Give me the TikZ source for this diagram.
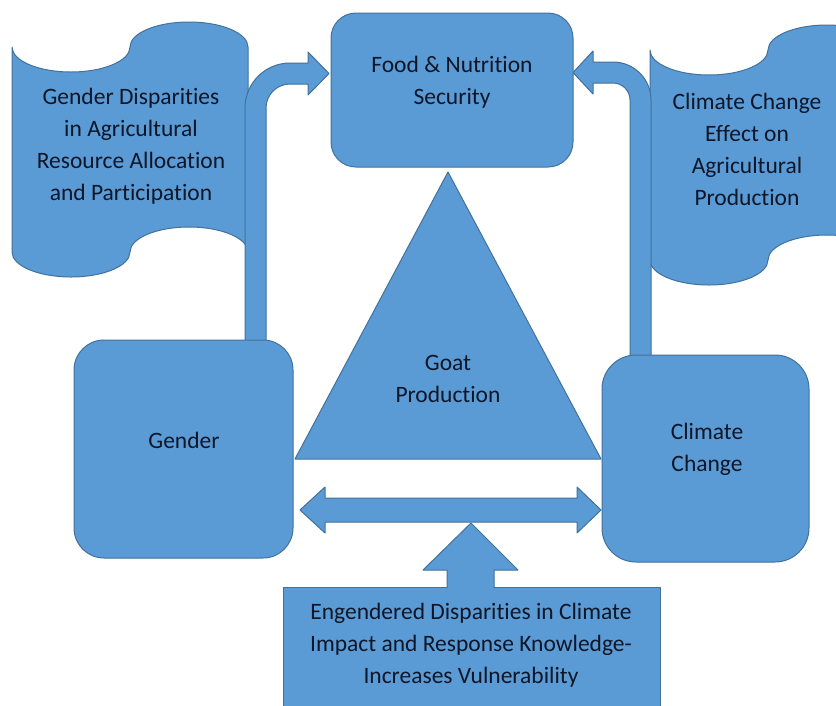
\documentclass[tikz,border=0pt]{standalone}
\usepackage{fontspec}
\setmainfont{Carlito}[Ligatures={NoCommon,NoRare}]
\usetikzlibrary{shapes.geometric}
\definecolor{boxfill}{RGB}{91,155,213}
\definecolor{boxline}{RGB}{65,113,156}
\definecolor{txt}{RGB}{14,22,40}
\begin{document}
\begin{tikzpicture}[x=1pt,y=1pt,
  shp/.style={fill=boxfill,draw=boxline,line width=1pt,line join=round},
  lbl/.style={text=txt,align=center,font=\fontsize{23.5}{32}\selectfont,inner sep=0pt}]
\useasboundingbox (0,0) rectangle (836,-705);
\clip (0,0) rectangle (836,-705);
\fill[white] (0,0) rectangle (836,-705);
% left wave (punched tape)
\path[shp] (12,-47) arc[start angle=180,end angle=360,x radius=59,y radius=25]
  arc[start angle=180,end angle=0,x radius=59,y radius=25]
  -- (248,-252) arc[start angle=0,end angle=180,x radius=59,y radius=25]
  arc[start angle=0,end angle=-180,x radius=59,y radius=25] -- cycle;
% right wave (punched tape)
\path[shp] (650,-50) arc[start angle=180,end angle=360,x radius=59,y radius=25]
  arc[start angle=180,end angle=0,x radius=59,y radius=25]
  -- (886,-260) arc[start angle=0,end angle=180,x radius=59,y radius=25]
  arc[start angle=0,end angle=-180,x radius=59,y radius=25] -- cycle;
% left bent arrow
\path[shp] (245,-342) -- (245,-108) arc[start angle=180,end angle=90,radius=45]
  -- (308,-63) -- (308,-52) -- (329,-73.5) -- (308,-95) -- (308,-84) -- (290,-84)
  arc[start angle=90,end angle=180,radius=24] -- (266,-342) -- cycle;
% right bent arrow
\path[shp] (630,-357) -- (630,-100) arc[start angle=0,end angle=90,radius=17]
  -- (593,-83) -- (593,-94) -- (573,-72.5) -- (593,-51) -- (593,-62) -- (613,-62)
  arc[start angle=90,end angle=0,radius=38] -- (651,-357) -- cycle;
% food box
\path[shp,rounded corners=25pt] (331,-13) rectangle (573,-167);
% triangle
\path[shp] (448,-172) -- (601,-459) -- (295,-459) -- cycle;
% gender box
\path[shp,rounded corners=30pt] (74,-340) rectangle (293,-558);
% climate box
\path[shp,rounded corners=34pt] (602,-355) rectangle (809,-562);
% double arrow
\path[shp] (300,-510) -- (325,-487) -- (325,-498) -- (577,-498) -- (577,-487)
  -- (601,-510) -- (577,-533) -- (577,-522) -- (325,-522) -- (325,-533) -- cycle;
% bottom box
\path[shp] (283,-587) rectangle (660,-720);
% up arrow
\path[shp] (447,-588) -- (447,-570) -- (423,-570) -- (471,-523) -- (518,-570)
  -- (494,-570) -- (494,-588);
% labels
\node[lbl] (food) at (452,-82) {Food \& Nutrition\\Security};
\node[lbl] (gdis) at (131,-146) {Gender Disparities\\in Agricultural\\Resource Allocation\\and Participation};
\node[lbl] (ccef) at (747,-149) {Climate Change\\Effect on\\Agricultural\\Production};
\node[lbl] (goat) at (448,-379) {Goat\\Production};
\node[lbl] (gender) at (184,-440) {Gender};
\node[lbl] (climate) at (707,-449) {Climate\\Change};
\node[lbl] (eng) at (471,-645) {Engendered Disparities in Climate\\Impact and Response Knowledge-\\Increases Vulnerability};
\end{tikzpicture}
\end{document}
